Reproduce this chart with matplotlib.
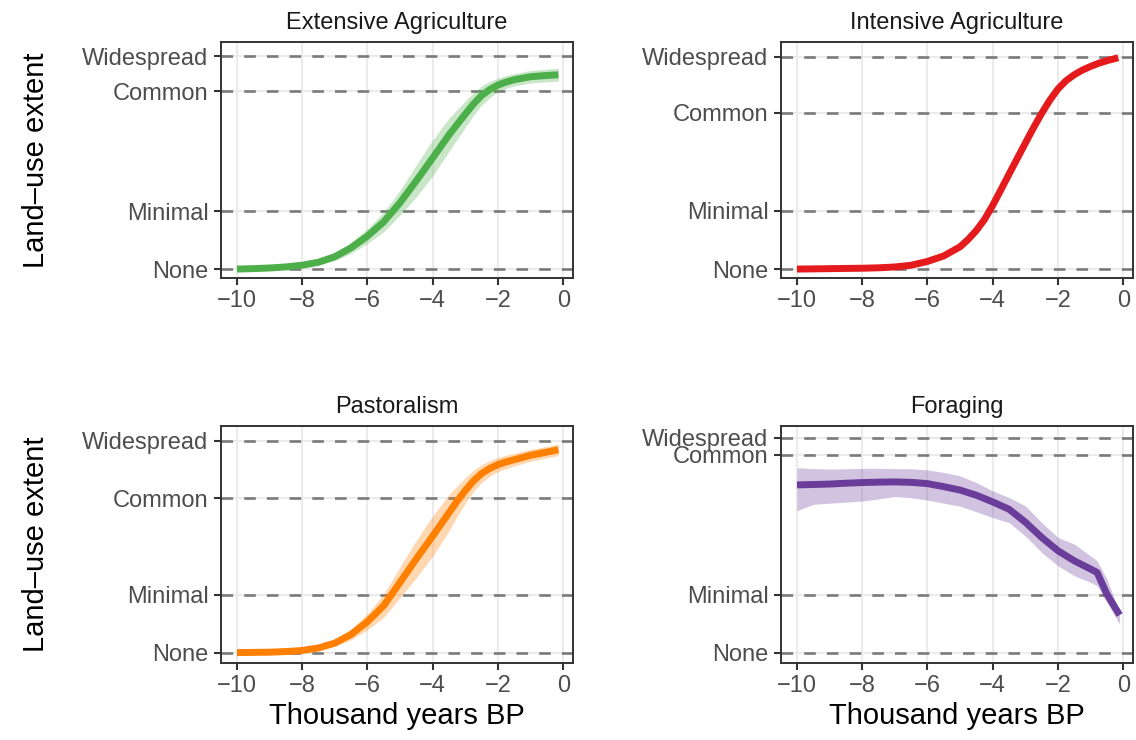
import matplotlib
matplotlib.use("Agg")
from matplotlib import pyplot as plt

# ====
# Data (x in thousand years BP, y on a 0-1 panel scale)
xs_ext = [-10, -9.5, -9, -8.5, -8, -7.5, -7, -6.5, -6, -5.5, -5,
          -4.5, -4, -3.5, -3, -2.75, -2.5, -2.25, -2, -1.75, -1.5, -1, -0.5, -0.15]
ext_mean = [0.000, 0.002, 0.005, 0.010, 0.018, 0.032, 0.058, 0.100, 0.155, 0.222, 0.312,
            0.415, 0.522, 0.630, 0.728, 0.775, 0.815, 0.843, 0.864, 0.878, 0.889, 0.903,
            0.909, 0.912]
ext_lo = [0.000, 0.000, 0.002, 0.005, 0.010, 0.020, 0.040, 0.074, 0.120, 0.176, 0.254,
          0.340, 0.437, 0.552, 0.666, 0.722, 0.770, 0.805, 0.832, 0.848, 0.860, 0.874,
          0.879, 0.882]
ext_hi = [0.001, 0.004, 0.008, 0.015, 0.026, 0.044, 0.076, 0.126, 0.190, 0.268, 0.370,
          0.490, 0.607, 0.708, 0.790, 0.828, 0.860, 0.881, 0.896, 0.908, 0.918, 0.932,
          0.939, 0.942]

xs_int = [-10, -9, -8, -7.5, -7, -6.5, -6, -5.5, -5, -4.75, -4.5, -4.25, -4, -3.75,
          -3.5, -3.25, -3, -2.75, -2.5, -2.25, -2, -1.75, -1.5, -1.25, -1, -0.75,
          -0.5, -0.15]
int_mean = [0.000, 0.002, 0.004, 0.006, 0.010, 0.018, 0.036, 0.062, 0.105, 0.140, 0.182,
            0.234, 0.300, 0.373, 0.447, 0.520, 0.593, 0.665, 0.733, 0.795, 0.848, 0.887,
            0.915, 0.937, 0.954, 0.969, 0.981, 0.995]

xs_pas = [-10, -9.5, -9, -8.5, -8, -7.5, -7, -6.5, -6, -5.5, -5, -4.5, -4, -3.5,
          -3.25, -3, -2.75, -2.5, -2.25, -2, -1.75, -1.5, -1, -0.5, -0.15]
pas_mean = [0.000, 0.001, 0.002, 0.005, 0.010, 0.022, 0.045, 0.086, 0.146, 0.222, 0.332,
            0.443, 0.550, 0.660, 0.715, 0.765, 0.810, 0.845, 0.869, 0.887, 0.900, 0.910,
            0.931, 0.946, 0.957]
pas_lo = [0.000, 0.000, 0.000, 0.002, 0.005, 0.013, 0.030, 0.061, 0.108, 0.167, 0.260,
          0.355, 0.455, 0.575, 0.643, 0.705, 0.760, 0.803, 0.832, 0.854, 0.868, 0.880,
          0.903, 0.919, 0.930]
pas_hi = [0.001, 0.002, 0.004, 0.008, 0.015, 0.031, 0.060, 0.111, 0.184, 0.277, 0.404,
          0.531, 0.645, 0.745, 0.787, 0.825, 0.860, 0.887, 0.906, 0.920, 0.932, 0.940,
          0.959, 0.973, 0.984]

xs_for = [-10, -9.5, -9, -8.5, -8, -7.5, -7, -6.5, -6, -5.5, -5,
          -4.5, -4, -3.5, -3, -2.5, -2, -1.5, -1, -0.8, -0.5, -0.11]
for_mean = [0.780, 0.782, 0.784, 0.788, 0.791, 0.793, 0.794, 0.792, 0.786, 0.772, 0.756,
            0.732, 0.701, 0.667, 0.607, 0.536, 0.474, 0.427, 0.389, 0.373, 0.272, 0.175]
for_lo = [0.660, 0.690, 0.695, 0.700, 0.705, 0.715, 0.726, 0.720, 0.710, 0.695, 0.681,
          0.655, 0.628, 0.605, 0.543, 0.466, 0.404, 0.358, 0.327, 0.311, 0.234, 0.133]
for_hi = [0.860, 0.856, 0.854, 0.855, 0.857, 0.857, 0.856, 0.855, 0.850, 0.838, 0.822,
          0.791, 0.752, 0.721, 0.683, 0.605, 0.536, 0.505, 0.450, 0.427, 0.342, 0.187]

levels = ["None", "Minimal", "Common", "Widespread"]
# tick positions of the four levels in each panel
ext_ticks = [0, 0.272, 0.834, 1]
int_ticks = [0, 0.275, 0.736, 1]
pas_ticks = [0, 0.274, 0.728, 1]
for_ticks = [0, 0.270, 0.920, 1]

titles = ["Extensive Agriculture", "Intensive Agriculture", "Pastoralism", "Foraging"]
colors = ["#4DAF4A", "#E41A1C", "#FF7F00", "#6A3D9A"]

# ====
W, H = 1136, 740
fig = plt.figure(figsize=(W / 100, H / 100), dpi=100)
plt.rcParams['font.family'] = ['Liberation Sans', 'DejaVu Sans']

# pixel boxes of the four panels: left, top, right, bottom
boxes = [(221, 42, 573, 278), (781, 42, 1133, 278),
         (221, 426, 573, 663), (781, 426, 1133, 663)]
ylims = [(-0.042, 1.066), (-0.042, 1.069), (-0.049, 1.069), (-0.048, 1.054)]

panels = [
    (xs_ext, ext_mean, ext_lo, ext_hi, ext_ticks),
    (xs_int, int_mean, None, None, int_ticks),
    (xs_pas, pas_mean, pas_lo, pas_hi, pas_ticks),
    (xs_for, for_mean, for_lo, for_hi, for_ticks),
]

for i, (x, mean, lo, hi, ticks) in enumerate(panels):
    l, t, r, b = boxes[i]
    ax = fig.add_axes([l / W, 1 - b / H, (r - l) / W, (b - t) / H])
    ax.set_xlim(-10.49, 0.30)
    ax.set_ylim(*ylims[i])
    ax.set_xticks([-10, -8, -6, -4, -2, 0])
    ax.set_xticklabels(["\u221210", "\u22128", "\u22126", "\u22124", "\u22122", "0"])
    ax.set_yticks(ticks)
    ax.set_yticklabels(levels)
    ax.grid(True, color="#EBEBEB", linewidth=1.5, zorder=0)
    ax.set_axisbelow(True)
    for tv in ticks:
        ax.axhline(tv, color="#7A7A7A", linewidth=1.9, dashes=(4.4, 4.2), zorder=1)
    if lo is not None:
        ax.fill_between(x, lo, hi, color=colors[i], alpha=0.3, linewidth=0, zorder=2)
    ax.plot(x, mean, color=colors[i], linewidth=5, solid_capstyle="butt",
            solid_joinstyle="round", zorder=3)

    ax.tick_params(axis="both", labelsize=17, labelcolor="#4D4D4D", color="#333333",
                   length=5, width=1.5, pad=4)
    for sp in ax.spines.values():
        sp.set_color("#333333")
        sp.set_linewidth(1.4)
    ax.set_title(titles[i], fontsize=17, color="#1A1A1A", pad=9)
    if i >= 2:
        ax.set_xlabel("Thousand years BP", fontsize=21, color="black", labelpad=3)
    if i % 2 == 0:
        fig.text(36 / W, 1 - ((t + b) / 2) / H, "Land\u2013use extent", rotation=90,
                 fontsize=21, ha="center", va="center")

fig.savefig("out.png", dpi=100)
